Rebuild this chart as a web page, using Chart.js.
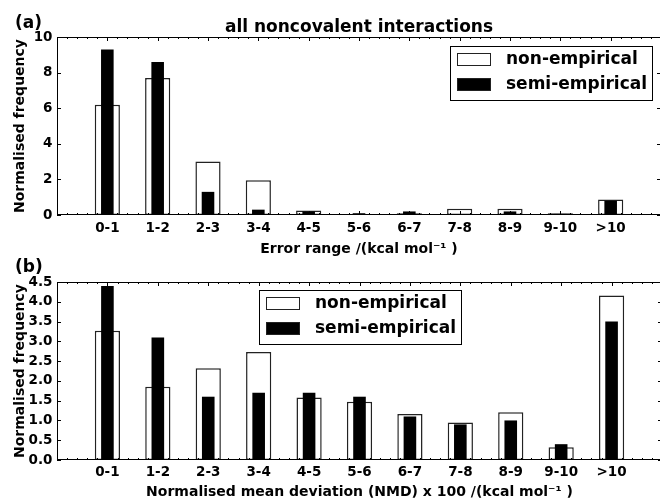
<!DOCTYPE html>
<html>
<head>
<meta charset="utf-8">
<script src="https://cdn.jsdelivr.net/npm/chart.js@4.4.1/dist/chart.umd.min.js"></script>
<style>
  html, body { margin: 0; padding: 0; background: #fff; overflow: hidden; width: 660px; height: 500px; }
  #wrap { position: relative; width: 660px; height: 500px; overflow: hidden; }
  canvas { position: absolute; left: 0; }
  #chartA { top: 0; }
  #chartB { top: 250px; }
</style>
</head>
<body>
<div id="wrap">
  <canvas id="chartA" width="666" height="260"></canvas>
  <canvas id="chartB" width="666" height="250"></canvas>
</div>
<script>
// Bins shared by both panels
const categories = ['0-1', '1-2', '2-3', '3-4', '4-5', '5-6', '6-7', '7-8', '8-9', '9-10', '>10'];

// (a) error ranges, all noncovalent interactions
const errNonEmpirical  = [6.2, 7.7, 3.0, 1.95, 0.25, 0.05, 0.1, 0.35, 0.35, 0.1, 0.87];
const errSemiEmpirical = [9.3, 8.6, 1.3, 0.3, 0.2, 0.1, 0.2, 0.0, 0.2, 0.06, 0.8];

// (b) normalised mean deviations
const nmdNonEmpirical  = [3.27, 1.85, 2.32, 2.73, 1.58, 1.47, 1.16, 0.95, 1.21, 0.32, 4.16];
const nmdSemiEmpirical = [4.4, 3.1, 1.6, 1.7, 1.7, 1.6, 1.1, 0.9, 1.0, 0.4, 3.5];

// y-axis tick settings
const yMaxA = 10, yStepA = 2;
const yMaxB = 4.5, yStepB = 0.5;

const FONT = '"DejaVu Sans", "Liberation Sans", sans-serif';

function toPoints(values) {
  return values.map((v, i) => ({ x: i, y: v }));
}

// Box frame with inward ticks on all four sides
const frameTicks = {
  id: 'frameTicks',
  afterDatasetsDraw(chart) {
    const { ctx, chartArea: a, scales: { x, y } } = chart;
    ctx.save();
    ctx.strokeStyle = '#000';
    ctx.lineWidth = 1;
    ctx.beginPath();
    for (let k = Math.round(x.min * 5); k <= Math.round(x.max * 5); k++) {
      const px = Math.round(x.getPixelForValue(k / 5)) + 0.5;
      const len = (k % 5 === 0) ? 4 : 2;
      ctx.moveTo(px, a.bottom); ctx.lineTo(px, a.bottom - len);
      ctx.moveTo(px, a.top); ctx.lineTo(px, a.top + len);
    }
    y.ticks.forEach(t => {
      const py = Math.round(y.getPixelForValue(t.value)) + 0.5;
      ctx.moveTo(a.left, py); ctx.lineTo(a.left + 4, py);
      ctx.moveTo(a.right, py); ctx.lineTo(a.right - 4, py);
    });
    ctx.stroke();
    ctx.strokeRect(Math.round(a.left) + 0.5, Math.round(a.top) + 0.5,
                   Math.round(a.right - a.left), Math.round(a.bottom - a.top) - 1);
    ctx.restore();
  }
};

// Framed legend inside the plot area
const boxLegend = {
  id: 'boxLegend',
  afterDraw(chart, args, opts) {
    const { ctx, chartArea: a } = chart;
    const w = 202, h = 54;
    const x0 = opts.loc === 'upper center'
      ? Math.round((a.left + a.right) / 2 - w / 2)
      : Math.round(a.right - 9 - w);
    const y0 = Math.round(a.top + opts.dy);
    ctx.save();
    ctx.fillStyle = '#fff';
    ctx.fillRect(x0, y0, w, h);
    ctx.strokeStyle = '#000';
    ctx.lineWidth = 1;
    ctx.strokeRect(x0 + 0.5, y0 + 0.5, w, h);
    ctx.font = 'bold 17px ' + FONT;
    ctx.textAlign = 'left';
    ctx.textBaseline = 'middle';
    chart.data.datasets.forEach((ds, i) => {
      const sy = y0 + 7 + i * 25;
      ctx.fillStyle = ds.backgroundColor;
      ctx.fillRect(x0 + 7, sy, 34, 13);
      ctx.strokeStyle = '#222';
      ctx.strokeRect(x0 + 7.5, sy + 0.5, 33, 12);
      ctx.fillStyle = '#000';
      ctx.fillText(ds.label, x0 + 56, sy + 7);
    });
    ctx.restore();
  }
};

// Panel tag and optional title
const panelText = {
  id: 'panelText',
  afterDraw(chart, args, opts) {
    const { ctx, chartArea: a } = chart;
    ctx.save();
    ctx.fillStyle = '#000';
    ctx.font = 'bold 17px ' + FONT;
    ctx.textBaseline = 'alphabetic';
    ctx.textAlign = 'left';
    ctx.fillText(opts.tag, 15, opts.tagY);
    if (opts.title) {
      ctx.textAlign = 'center';
      ctx.fillText(opts.title, (a.left + a.right) / 2, opts.titleY);
    }
    ctx.restore();
  }
};

function makeChart(canvasId, cfg) {
  const datasets = [
    {
      label: 'non-empirical',
      data: toPoints(cfg.nonEmp),
      backgroundColor: '#ffffff',
      borderColor: '#222222',
      borderWidth: 1.5,
      borderSkipped: false,
      barPercentage: 0.5,
      categoryPercentage: 1,
      grouped: false,
      order: 1
    },
    {
      label: 'semi-empirical',
      data: toPoints(cfg.semiEmp),
      backgroundColor: '#000000',
      borderWidth: 0,
      barPercentage: 0.25,
      categoryPercentage: 1,
      grouped: false,
      order: 0
    }
  ];
  const tickFont = { family: FONT, size: 13.5, weight: 'bold' };
  const titleFont = { family: FONT, size: 14, weight: 'bold', lineHeight: 1 };
  return new Chart(document.getElementById(canvasId), {
    type: 'bar',
    data: { datasets },
    options: {
      responsive: false,
      animation: false,
      devicePixelRatio: 1,
      layout: { padding: { top: cfg.top, right: 3, left: 0, bottom: cfg.padBottom } },
      scales: {
        x: {
          type: 'linear',
          offset: false,
          min: -1,
          max: 11,
          grid: { display: false, drawTicks: false, offset: false },
          border: { display: false },
          ticks: {
            stepSize: 1,
            autoSkip: false,
            maxRotation: 0,
            padding: cfg.xTickPad,
            color: '#000',
            font: tickFont,
            callback: v => (categories[v] !== undefined ? categories[v] : '')
          },
          title: { display: true, text: cfg.xTitle, color: '#000', font: titleFont, padding: 0 },
          afterFit: s => { s.height = cfg.xHeight; }
        },
        y: {
          min: 0,
          max: cfg.yMax,
          grid: { display: false, drawTicks: false },
          border: { display: false },
          ticks: {
            stepSize: cfg.yStep,
            padding: 4.5,
            color: '#000',
            font: tickFont,
            callback: cfg.yFmt
          },
          title: { display: true, text: 'Normalised frequency', color: '#000', font: titleFont, padding: { top: 13, bottom: 0 } },
          afterFit: s => { s.width = 57; }
        }
      },
      plugins: {
        legend: { display: false },
        tooltip: { enabled: false },
        boxLegend: { loc: cfg.legendLoc, dy: cfg.legendDy },
        panelText: { tag: cfg.tag, tagY: cfg.tagY, title: cfg.title, titleY: cfg.titleY }
      }
    },
    plugins: [frameTicks, boxLegend, panelText]
  });
}

makeChart('chartA', {
  nonEmp: errNonEmpirical,
  semiEmp: errSemiEmpirical,
  yMax: yMaxA,
  yStep: yStepA,
  yFmt: v => String(v),
  top: 37,
  padBottom: 4,
  xHeight: 41,
  xTickPad: 5,
  xTitle: 'Error range /(kcal mol\u207B\u00B9 )',
  legendLoc: 'upper right',
  legendDy: 9,
  tag: '(a)',
  tagY: 28,
  title: 'all noncovalent interactions',
  titleY: 32
});

makeChart('chartB', {
  nonEmp: nmdNonEmpirical,
  semiEmp: nmdSemiEmpirical,
  yMax: yMaxB,
  yStep: yStepB,
  yFmt: v => v.toFixed(1),
  top: 32,
  padBottom: 1,
  xHeight: 39,
  xTickPad: 4,
  xTitle: 'Normalised mean deviation (NMD) x 100 /(kcal mol\u207B\u00B9 )',
  legendLoc: 'upper center',
  legendDy: 8,
  tag: '(b)',
  tagY: 22,
  title: '',
  titleY: 0
});
</script>
</body>
</html>
